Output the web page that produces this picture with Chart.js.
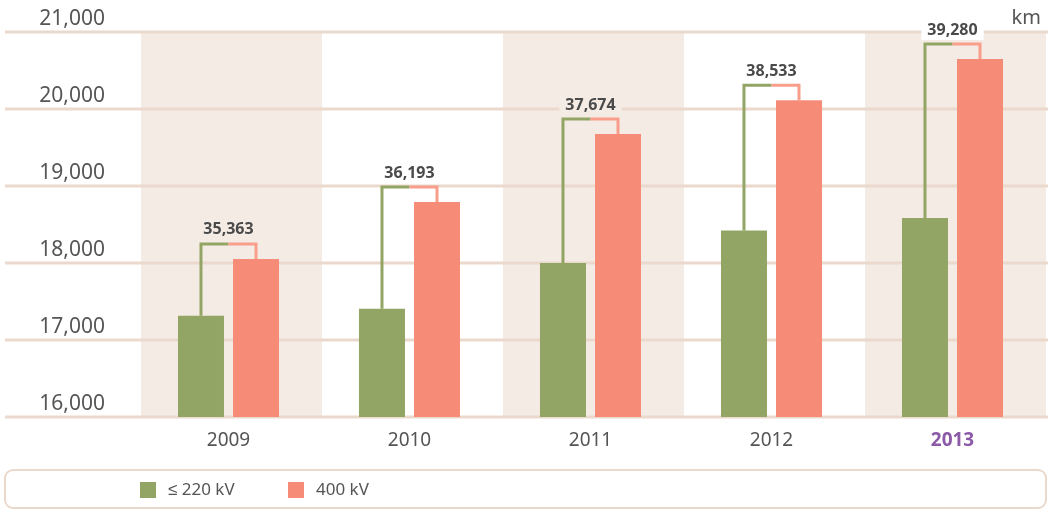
<!DOCTYPE html>
<html>
<head>
<meta charset="utf-8">
<script src="https://cdn.jsdelivr.net/npm/chart.js@4.4.0/dist/chart.umd.min.js"></script>
<style>
  body { margin: 0; background: #fff; }
  #wrap { width: 1051px; height: 512px; position: relative; }
</style>
</head>
<body>
<div id="wrap"><canvas id="grafico-linhas"></canvas></div>
<script>
// dados
const anos = ['2009', '2010', '2011', '2012', '2013'];
const ate220kv = [17314, 17405, 18001, 18423, 18585];
const kv400 = [18053, 18792, 19674, 20115, 20650];
const totais = ['35,363', '36,193', '37,674', '38,533', '39,280'];
const ticksY = [16000, 17000, 18000, 19000, 20000, 21000];

const fonte = '"Noto Sans", sans-serif';
const corTexto = '#555555';
const corGrade = '#ead9cc';
const corFaixa = '#f4ebe5';
const verde = '#93a564';
const laranja = '#f68c77';

// faixas, grade e rótulos do eixo y
const fundoPlugin = {
    id: 'fundo',
    beforeDatasetsDraw(chart) {
        const { ctx, chartArea, scales } = chart;
        const x = scales.x, y = scales.y;
        const larg = x.width / anos.length;
        ctx.save();
        ctx.fillStyle = corFaixa;
        anos.forEach((a, i) => {
            if (i % 2 === 0) {
                // faixa levemente deslocada em relação às barras, como no original
                const cx = x.getPixelForValue(i) + 3;
                ctx.fillRect(cx - larg / 2, chartArea.top, larg, chartArea.bottom - chartArea.top);
            }
        });
        ctx.strokeStyle = corGrade;
        ctx.lineWidth = 3;
        ctx.fillStyle = corTexto;
        ctx.font = '21px ' + fonte;
        ctx.textAlign = 'right';
        ctx.textBaseline = 'alphabetic';
        ticksY.forEach(v => {
            const py = Math.round(y.getPixelForValue(v));
            ctx.beginPath();
            ctx.moveTo(5, py);
            ctx.lineTo(1048, py);
            ctx.stroke();
            ctx.fillText(v.toLocaleString('en-US'), 105, py - 7);
        });
        ctx.restore();
    },
    afterDatasetsDraw(chart) {
        const { ctx } = chart;
        const m0 = chart.getDatasetMeta(0), m1 = chart.getDatasetMeta(1);
        ctx.save();
        ctx.lineWidth = 3;
        anos.forEach((a, i) => {
            const g = m0.data[i], o = m1.data[i];
            const topo = o.y - 15;
            const meio = (g.x + o.x) / 2;
            ctx.strokeStyle = verde;
            ctx.beginPath();
            ctx.moveTo(g.x, g.y);
            ctx.lineTo(g.x, topo);
            ctx.lineTo(meio, topo);
            ctx.stroke();
            ctx.strokeStyle = '#f89e8b';
            ctx.beginPath();
            ctx.moveTo(meio, topo);
            ctx.lineTo(o.x, topo);
            ctx.lineTo(o.x, o.y);
            ctx.stroke();

            // total com fundo
            ctx.font = 'bold 16px ' + fonte;
            const w = ctx.measureText(totais[i]).width;
            const ty = topo - 14;
            ctx.fillStyle = (i % 2 === 0 && ty > chart.chartArea.top) ? corFaixa : '#ffffff';
            ctx.fillRect(meio - w / 2 - 6, ty - 10, w + 12, 20);
            ctx.fillStyle = '#4a4a4a';
            ctx.textAlign = 'center';
            ctx.textBaseline = 'middle';
            ctx.fillText(totais[i], meio, ty);
        });
        ctx.restore();
    },
    afterDraw(chart) {
        const { ctx } = chart;
        ctx.save();
        // unidade
        ctx.fillStyle = corTexto;
        ctx.font = '20px ' + fonte;
        ctx.textAlign = 'right';
        ctx.textBaseline = 'alphabetic';
        ctx.fillText('km', 1041, 24);

        // legenda
        ctx.strokeStyle = corGrade;
        ctx.lineWidth = 2;
        ctx.beginPath();
        ctx.roundRect(5, 470, 1041, 38, 8);
        ctx.stroke();
        ctx.font = '17px ' + fonte;
        ctx.textAlign = 'left';
        ctx.textBaseline = 'middle';
        let lx = 140;
        chart.data.datasets.forEach(ds => {
            ctx.fillStyle = ds.backgroundColor;
            ctx.fillRect(lx, 482, 16, 16);
            ctx.fillStyle = corTexto;
            ctx.fillText(ds.label, lx + 28, 490);
            lx += 148;
        });
        ctx.restore();
    }
};

const ctx = document.getElementById('grafico-linhas').getContext('2d');
const grafico = new Chart(ctx, {
    type: 'bar',
    data: {
        labels: anos,
        datasets: [
            { label: '≤ 220 kV', data: ate220kv, backgroundColor: verde },
            { label: '400 kV', data: kv400, backgroundColor: laranja }
        ]
    },
    options: {
        responsive: true,
        maintainAspectRatio: false,
        animation: false,
        layout: { padding: { left: 138, right: 8, top: 32, bottom: 0 } },
        categoryPercentage: 0.608,
        barPercentage: 0.836,
        plugins: { legend: { display: false }, tooltip: { enabled: false } },
        scales: {
            y: { display: false, min: 16000, max: 21000 },
            x: {
                grid: { display: false, drawTicks: false },
                border: { display: false },
                afterFit: s => { s.height = 95; },
                ticks: {
                    padding: 12,
                    color: c => c.index === 4 ? '#8b5aa8' : corTexto,
                    font: c => ({ family: fonte, size: 19, weight: c.index === 4 ? 'bold' : 'normal' })
                }
            }
        }
    },
    plugins: [fundoPlugin]
});
</script>
</body>
</html>
